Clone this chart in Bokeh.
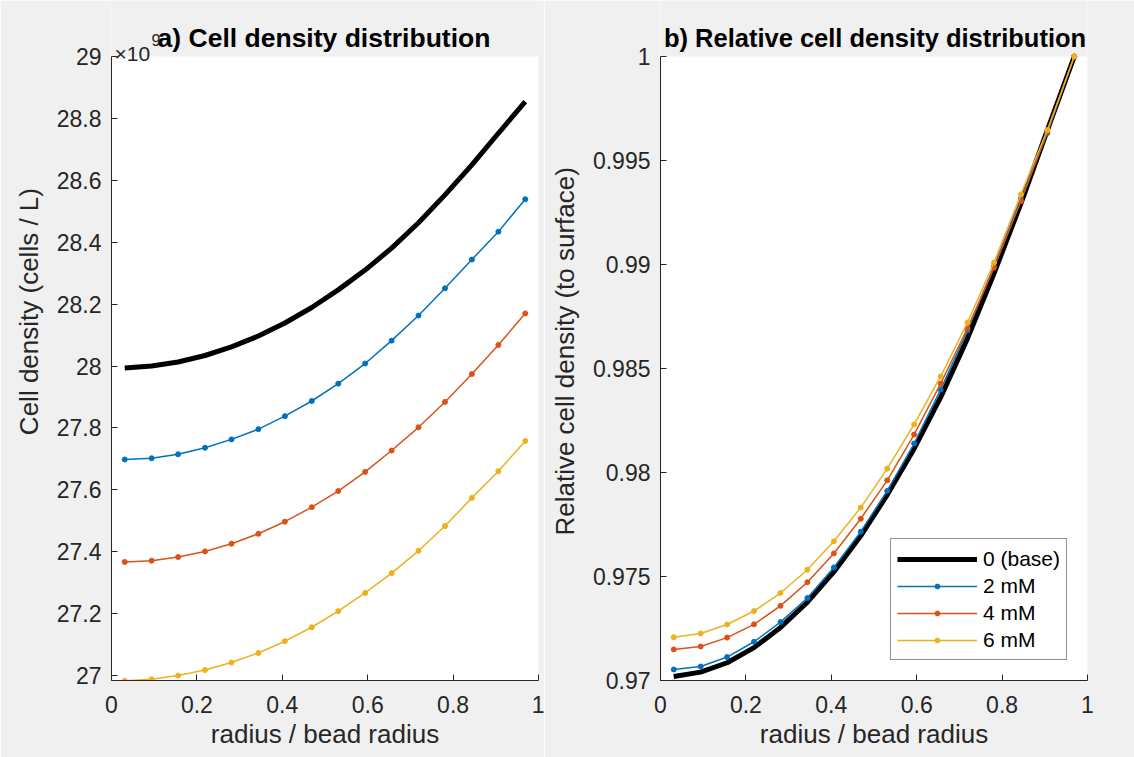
from bokeh.plotting import figure
from bokeh.models import (Range1d, FixedTicker, CustomJSTickFormatter, Label, Legend,
                          LegendItem, BoxAnnotation)
from bokeh.layouts import row
from bokeh.embed import file_html
from bokeh.resources import INLINE

# ---- data ----
radius = [0.031, 0.094, 0.156, 0.219, 0.281, 0.344, 0.406, 0.469,
          0.531, 0.594, 0.656, 0.719, 0.781, 0.844, 0.906, 0.969]
# cell density, x 1e9 cells / L
density_base = [27.994, 28.000, 28.013, 28.034, 28.062, 28.097, 28.139, 28.189,
                28.246, 28.310, 28.381, 28.463, 28.553, 28.650, 28.752, 28.854]
density_2mM = [27.698, 27.702, 27.715, 27.736, 27.763, 27.796, 27.838, 27.887,
               27.943, 28.008, 28.082, 28.163, 28.251, 28.344, 28.434, 28.539]
density_4mM = [27.367, 27.371, 27.383, 27.401, 27.426, 27.458, 27.497, 27.544,
               27.596, 27.658, 27.727, 27.802, 27.884, 27.974, 28.068, 28.170]
density_6mM = [26.983, 26.988, 27.000, 27.018, 27.042, 27.073, 27.111, 27.156,
               27.208, 27.267, 27.331, 27.403, 27.483, 27.574, 27.660, 27.758]
series_names = ["0 (base)", "2 mM", "4 mM", "6 mM"]
left_ticks = [27, 27.2, 27.4, 27.6, 27.8, 28, 28.2, 28.4, 28.6, 28.8, 29]
right_ticks = [0.97, 0.975, 0.98, 0.985, 0.99, 0.995, 1.0]
x_ticks = [0, 0.2, 0.4, 0.6, 0.8, 1.0]

all_series = [density_base, density_2mM, density_4mM, density_6mM]
relative = [[v / s[-1] for v in s] for s in all_series]

colors = ["#000000", "#0072BD", "#D95319", "#EDB120"]
FONT = "Liberation Sans"
AX = "#262626"
BG = "#f0f0f0"
NB = "\u00a0"

H = 757
BOTTOM = 77          # px below the axes box
TOP_GAP = 56         # px above the axes box (title area, inside the frame)
AXES_H = H - BOTTOM - TOP_GAP

fmt = CustomJSTickFormatter(code="return parseFloat(tick.toFixed(4)).toString();")


def make_panel(width, left, right, ylo, yhi, yticks, xlabel, ylabel, title, title_size, title_dx):
    ytop = yhi + TOP_GAP * (yhi - ylo) / AXES_H
    p = figure(width=width, height=H, x_range=Range1d(0, 1), y_range=Range1d(ylo, ytop),
               output_backend="svg", toolbar_location=None,
               min_border_left=left, min_border_right=right, min_border_top=0,
               min_border_bottom=BOTTOM)
    p.border_fill_color = BG
    p.background_fill_color = BG
    p.outline_line_color = None
    p.grid.visible = False
    p.add_layout(BoxAnnotation(left=0, right=1, bottom=ylo, top=yhi, fill_color="white",
                               fill_alpha=1, line_color=None, level="underlay"))
    for ax in (p.xaxis[0], p.yaxis[0]):
        ax.axis_line_color = AX
        ax.axis_line_width = 1
        ax.major_tick_line_color = AX
        ax.major_tick_in = 6
        ax.major_tick_out = 0
        ax.minor_tick_line_color = None
        ax.major_label_text_font = FONT
        ax.major_label_text_font_size = "23px"
        ax.major_label_text_color = AX
        ax.axis_label_text_font = FONT
        ax.axis_label_text_font_size = "26px"
        ax.axis_label_text_font_style = "normal"
        ax.axis_label_text_color = AX
        ax.formatter = fmt
    p.xaxis[0].ticker = FixedTicker(ticks=x_ticks)
    p.yaxis[0].ticker = FixedTicker(ticks=yticks)
    p.yaxis[0].bounds = (ylo, yhi)
    p.xaxis[0].axis_label = xlabel
    p.yaxis[0].axis_label = ylabel
    p.xaxis[0].major_label_standoff = 15
    p.xaxis[0].axis_label_standoff = 3
    p.yaxis[0].major_label_standoff = 10
    p.yaxis[0].axis_label_standoff = 10
    p.add_layout(Label(x=0.5, y=ytop, x_offset=title_dx, y_offset=-37, text=title, text_font=FONT,
                       text_font_size=title_size, text_font_style="bold", text_color="black",
                       text_align="center", text_baseline="middle"))
    return p, ytop


# ---- panel a ----
p1, top1 = make_panel(544, 111, 6, 26.984, 29.0, left_ticks, "radius / bead radius",
                      NB * 8 + "Cell density (cells / L)", "a) Cell density distribution",
                      "26.5px", -1)
for i, s in enumerate(all_series):
    if i == 0:
        p1.line(radius, s, line_color=colors[i], line_width=5)
    else:
        p1.line(radius, s, line_color=colors[i], line_width=1.5)
        p1.scatter(radius, s, marker="circle", size=5, fill_color=colors[i], line_color=colors[i])

p1.add_layout(Label(x=0, y=top1, x_offset=3, y_offset=-53, text="×10", text_font=FONT,
                    text_font_size="21px", text_color=AX, text_baseline="alphabetic"))
p1.add_layout(Label(x=0, y=top1, x_offset=40, y_offset=-39, text="9", text_font=FONT,
                    text_font_size="16px", text_color=AX, text_baseline="alphabetic"))

# ---- panel b ----
p2, top2 = make_panel(590, 116, 47, 0.97, 1.0, right_ticks, "radius / bead radius",
                      "Relative cell density (to surface)" + NB * 3,
                      "b) Relative cell density distribution", "25.5px", 1)

items = []
for i, s in enumerate(relative):
    if i == 0:
        r = p2.line(radius, s, line_color=colors[i], line_width=5)
        items.append(LegendItem(label=series_names[i], renderers=[r]))
    else:
        r1 = p2.line(radius, s, line_color=colors[i], line_width=1.5)
        r2 = p2.scatter(radius, s, marker="circle", size=5, fill_color=colors[i], line_color=colors[i])
        items.append(LegendItem(label=series_names[i], renderers=[r1, r2]))

legend = Legend(items=items, location="bottom_right")
legend.margin = 20
legend.padding = 6
legend.spacing = 0
legend.glyph_width = 80
legend.glyph_height = 12
legend.label_height = 27
legend.label_standoff = 6
legend.label_text_font = FONT
legend.label_text_font_size = "21px"
legend.label_text_color = "black"
legend.border_line_color = AX
legend.border_line_width = 1
legend.background_fill_color = "white"
legend.background_fill_alpha = 1
p2.add_layout(legend)

layout = row(p1, p2)
open("out.html", "w").write(file_html(layout, INLINE))
